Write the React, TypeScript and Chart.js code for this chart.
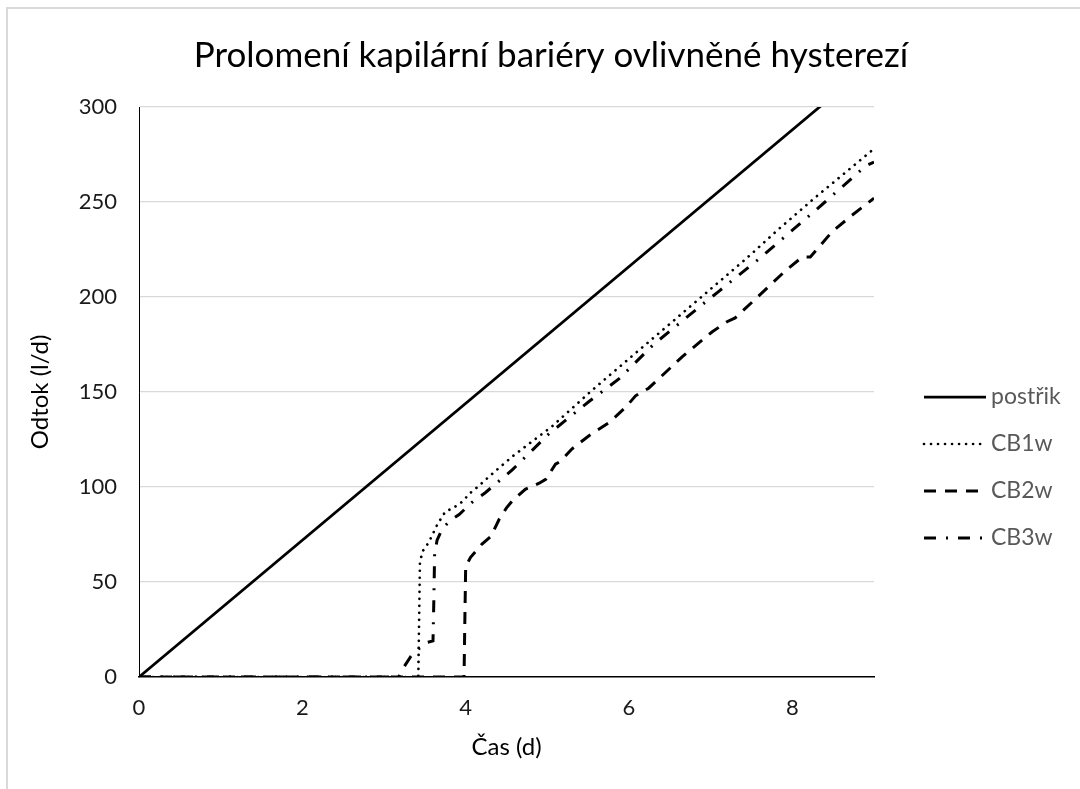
import { useEffect, useRef } from "react";
import { Chart, registerables } from "chart.js";

Chart.register(...registerables);

const chartTitle = "Prolomení kapilární bariéry ovlivněné hysterezí";
const xAxisTitle = "Čas (d)";
const yAxisTitle = "Odtok (l/d)";
const seriesLabels = ["postřik", "CB1w", "CB2w", "CB3w"];

const xTickValues = [0, 2, 4, 6, 8];
const yTickValues = [0, 50, 100, 150, 200, 250, 300];

const postrikTime = [0, 9];
const postrikFlow = [0, 324];

const cb1Time = [0, 3.42, 3.43, 3.44, 3.47, 3.55, 3.65, 3.75, 3.85, 3.95, 4.06, 4.16, 4.3, 4.57, 5.06, 5.55, 6.04, 6.45, 6.94, 7.43, 7.84, 8.27, 9];
const cb1Flow = [0, 0, 30, 60, 66, 71, 80, 87, 89, 92, 97, 100.5, 106, 116, 132, 151, 169, 184, 202, 220, 236, 252, 278];

const cb2Time = [0, 3.98, 3.99, 4.0, 4.06, 4.12, 4.2, 4.31, 4.41, 4.5, 4.57, 4.73, 4.9, 4.98, 5.1, 5.16, 5.3, 5.51, 5.76, 5.96, 6.08, 6.24, 6.39, 6.65, 7.02, 7.2, 7.3, 7.55, 7.92, 8.12, 8.22, 8.49, 8.73, 9];
const cb2Flow = [0, 0, 30, 58, 63, 66, 70, 74, 83, 89, 92.6, 98.8, 102, 104, 112, 113.5, 120, 127, 134, 142, 148, 152, 158, 168.5, 181.7, 187, 189, 199, 214, 221, 221, 234.5, 243, 252];

const cb3Time = [0, 3.18, 3.24, 3.33, 3.43, 3.51, 3.6, 3.61, 3.62, 3.65, 3.71, 3.8, 3.92, 4.08, 4.24, 4.57, 5.02, 5.51, 5.88, 6.3, 6.94, 7.1, 7.59, 8.24, 8.4, 8.9, 9];
const cb3Flow = [0, 0, 5, 11, 15, 18, 19, 40, 65, 72, 77.6, 82, 85.5, 92, 97, 109, 128, 145, 157, 175, 197.5, 203, 220, 244, 250, 269, 271];

const toPoints = (xs: number[], ys: number[]) => xs.map((x, i) => ({ x, y: ys[i] }));

const FONT = "Lato, 'Open Sans', sans-serif";

const framePlugin = {
  id: "frame",
  beforeDraw(chart: any) {
    const { ctx, width, height } = chart;
    ctx.save();
    ctx.fillStyle = "#ffffff";
    ctx.fillRect(0, 0, width, height);
    ctx.strokeStyle = "#d9d9d9";
    ctx.lineWidth = 2;
    ctx.beginPath();
    ctx.moveTo(7, height + 5);
    ctx.lineTo(7, 8);
    ctx.lineTo(width + 5, 8);
    ctx.stroke();
    ctx.restore();
  },
};

const sideLegendPlugin = {
  id: "sideLegend",
  afterDraw(chart: any) {
    const { ctx, chartArea } = chart;
    const x0 = chartArea.right + 50;
    const len = 62;
    const firstY = 397;
    const gap = 47;
    chart.data.datasets.forEach((ds: any, i: number) => {
      const y = firstY + i * gap;
      ctx.save();
      ctx.strokeStyle = ds.borderColor;
      ctx.lineWidth = ds.borderWidth;
      ctx.lineCap = ds.borderCapStyle || "butt";
      ctx.setLineDash(ds.borderDash || []);
      ctx.beginPath();
      ctx.moveTo(x0, y);
      ctx.lineTo(x0 + len, y);
      ctx.stroke();
      ctx.restore();
      ctx.save();
      ctx.fillStyle = "#595959";
      ctx.font = `23px ${FONT}`;
      ctx.textBaseline = "middle";
      ctx.textAlign = "left";
      ctx.fillText(ds.label, x0 + len + 5, y);
      ctx.restore();
    });
  },
};

export default function App() {
  const canvasRef = useRef<HTMLCanvasElement | null>(null);

  useEffect(() => {
    if (!canvasRef.current) return;
    const chart = new Chart(canvasRef.current, {
      type: "scatter",
      data: {
        datasets: [
          {
            label: seriesLabels[0],
            data: toPoints(postrikTime, postrikFlow),
            borderColor: "#000000",
            borderWidth: 2.75,
            borderDash: [],
          },
          {
            label: seriesLabels[1],
            data: toPoints(cb1Time, cb1Flow),
            borderColor: "#000000",
            borderWidth: 2.7,
            borderDash: [0.01, 7],
            borderCapStyle: "round",
          },
          {
            label: seriesLabels[2],
            data: toPoints(cb2Time, cb2Flow),
            borderColor: "#000000",
            borderWidth: 3,
            borderDash: [12, 9],
          },
          {
            label: seriesLabels[3],
            data: toPoints(cb3Time, cb3Flow),
            borderColor: "#000000",
            borderWidth: 3,
            borderDash: [12, 10, 2, 10],
          },
        ].map((d) => ({
          ...d,
          showLine: true,
          pointRadius: 0,
          pointHoverRadius: 0,
          fill: false,
          tension: 0,
        })) as any,
      },
      options: {
        responsive: false,
        animation: false,
        events: [],
        layout: { padding: { left: 22, right: 0, top: 0, bottom: 0 } },
        plugins: {
          legend: { display: false },
          tooltip: { enabled: false },
          title: {
            display: true,
            text: chartTitle,
            color: "#000000",
            font: { family: FONT, size: 35, weight: "normal", lineHeight: 1.2 },
            padding: { top: 35, bottom: 30 },
          },
        },
        scales: {
          x: {
            type: "linear",
            min: 0,
            max: 9,
            afterFit(scale: any) {
              scale.height = 112;
            },
            afterBuildTicks(scale: any) {
              scale.ticks = xTickValues.map((v) => ({ value: v }));
            },
            ticks: {
              color: "#1a1a1a",
              font: { family: FONT, size: 22 },
              padding: 18,
              maxRotation: 0,
              includeBounds: false,
            },
            grid: { display: false, drawTicks: false },
            border: { display: true, color: "#000000", width: 1.5 },
            title: {
              display: true,
              text: xAxisTitle,
              color: "#000000",
              font: { family: FONT, size: 24, lineHeight: 1.2 },
              padding: { top: 0, bottom: 27 },
            },
          },
          y: {
            type: "linear",
            min: 0,
            max: 300,
            afterFit(scale: any) {
              scale.width = 117;
            },
            afterBuildTicks(scale: any) {
              scale.ticks = yTickValues.map((v) => ({ value: v }));
            },
            ticks: {
              color: "#1a1a1a",
              font: { family: FONT, size: 22 },
              padding: 22,
            },
            grid: {
              drawTicks: false,
              lineWidth: 1.3,
              color: (ctx: any) => (ctx.tick && ctx.tick.value === 0 ? "rgba(0,0,0,0)" : "#d9d9d9"),
            },
            border: { display: true, color: "#000000", width: 1 },
            title: {
              display: true,
              text: yAxisTitle,
              color: "#000000",
              font: { family: FONT, size: 24, lineHeight: 1.2 },
              padding: { top: 4, bottom: 0 },
            },
          },
          legendSpace: {
            type: "linear",
            position: "right",
            display: true,
            afterFit(scale: any) {
              scale.width = 206;
            },
            ticks: { display: false },
            grid: { display: false, drawTicks: false },
            border: { display: false },
          },
        },
      },
      plugins: [framePlugin, sideLegendPlugin],
    });
    return () => chart.destroy();
  }, []);

  return (
    <div style={{ position: "fixed", left: 0, top: 0, width: 1080, height: 789 }}>
      <canvas ref={canvasRef} width={1080} height={789} style={{ display: "block", width: 1080, height: 789 }} />
    </div>
  );
}
